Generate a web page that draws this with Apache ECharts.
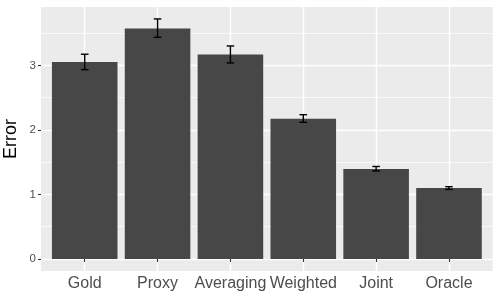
<!DOCTYPE html>
<html>
<head>
<meta charset="utf-8">
<script src="https://cdn.jsdelivr.net/npm/echarts@6/dist/echarts.min.js"></script>
<style>html,body{margin:0;padding:0;background:#fff}#c{width:500px;height:300px}</style>
</head>
<body>
<div id="c"></div>
<script>
const categories = ['Gold', 'Proxy', 'Averaging', 'Weighted', 'Joint', 'Oracle'];
const values = [3.054, 3.574, 3.171, 2.175, 1.395, 1.101];
const errLow = [2.935, 3.437, 3.039, 2.119, 1.364, 1.078];
const errHigh = [3.174, 3.721, 3.302, 2.237, 1.434, 1.121];
const yTicks = [0, 1, 2, 3];

// ggplot-like expansion
const yMin = -0.186, yMax = 3.906;
const panelLeft = 41, panelTop = 7, panelW = 451.7, panelH = 264;
const unit = panelH / (yMax - yMin);
const catUnit = panelW / (categories.length - 1 + 1.2);

const chart = echarts.init(document.getElementById('c'), null, {renderer: 'canvas'});
chart.setOption({
  animation: false,
  backgroundColor: '#ffffff',
  grid: [
    {left: panelLeft, top: panelTop, width: panelW, height: panelH, show: true,
     backgroundColor: '#EBEBEB', borderWidth: 0, z: -1, outerBoundsMode: 'none', containLabel: false},
    {left: panelLeft, top: panelTop + (yMax - 4) * unit, width: panelW, height: 5 * unit,
     outerBoundsMode: 'none', containLabel: false},
    {left: panelLeft + 0.6 * catUnit, top: panelTop, width: (categories.length - 1) * catUnit, height: panelH,
     outerBoundsMode: 'none', containLabel: false}
  ],
  xAxis: [
    {type: 'value', gridIndex: 0, show: false},
    {type: 'value', gridIndex: 1, show: false},
    {type: 'category', gridIndex: 2, data: categories, boundaryGap: false,
     axisLine: {show: false},
     axisTick: {show: true, interval: 0, length: 3, lineStyle: {color: '#333333', width: 1.1}},
     axisLabel: {interval: 0, color: '#4D4D4D', fontSize: 16, margin: 5, fontFamily: 'Liberation Sans, Arial, sans-serif'},
     splitLine: {show: true, interval: 0, lineStyle: {color: '#ffffff', width: 1.4}}}
  ],
  yAxis: [
    {type: 'value', gridIndex: 0, min: yMin, max: yMax,
     axisLine: {show: false}, axisTick: {show: false}, axisLabel: {show: false}, splitLine: {show: false},
     name: 'Error', nameLocation: 'middle', nameGap: 21,
     nameTextStyle: {color: '#000000', fontSize: 18, fontFamily: 'Liberation Sans, Arial, sans-serif'}},
    {type: 'value', gridIndex: 1, min: -1, max: 4, interval: 1,
     axisLine: {show: false},
     axisTick: {show: true, length: 3, customValues: yTicks, lineStyle: {color: '#333333', width: 1.1}},
     axisLabel: {show: true, customValues: yTicks, color: '#4D4D4D', fontSize: 11.5, margin: 5,
                 fontFamily: 'Liberation Sans, Arial, sans-serif'},
     splitLine: {show: true, lineStyle: {color: '#ffffff', width: 1.4}},
     minorTick: {show: false, splitNumber: 2},
     minorSplitLine: {show: true, lineStyle: {color: '#ffffff', width: 0.7}}},
    {type: 'value', gridIndex: 2, min: yMin, max: yMax, show: false, splitLine: {show: false}}
  ],
  series: [
    {type: 'bar', xAxisIndex: 2, yAxisIndex: 2, data: values, barWidth: '90%', clip: false,
     itemStyle: {color: '#474747'}, z: 2},
    {type: 'custom', xAxisIndex: 2, yAxisIndex: 2, clip: false, z: 3,
     data: categories.map((c, i) => [i, errLow[i], errHigh[i]]),
     renderItem: function (params, api) {
       const i = api.value(0);
       const lo = api.coord([i, api.value(1)]);
       const hi = api.coord([i, api.value(2)]);
       const half = api.size([1, 0])[0] * 0.052;
       const st = {stroke: '#000000', lineWidth: 1.4, fill: null};
       return {type: 'group', children: [
         {type: 'line', shape: {x1: lo[0], y1: lo[1], x2: hi[0], y2: hi[1]}, style: st},
         {type: 'line', shape: {x1: hi[0] - half, y1: hi[1], x2: hi[0] + half, y2: hi[1]}, style: st},
         {type: 'line', shape: {x1: lo[0] - half, y1: lo[1], x2: lo[0] + half, y2: lo[1]}, style: st}
       ]};
     }}
  ]
});
</script>
</body>
</html>
